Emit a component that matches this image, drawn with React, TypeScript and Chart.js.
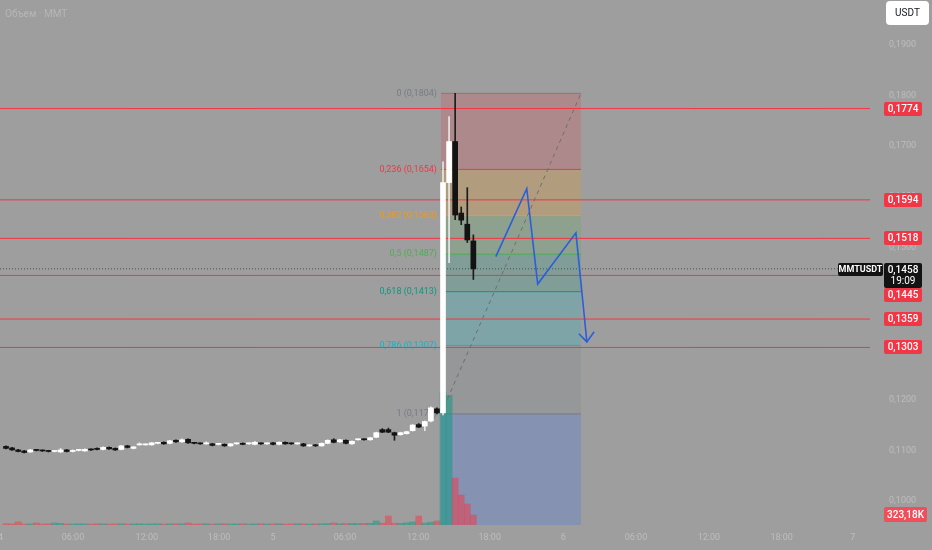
import React, { useEffect, useRef } from "react";
import { Chart, registerables } from "chart.js";
Chart.register(...registerables);

// ---------- data ----------
const OPEN = [
  0.1108, 0.1105, 0.1101, 0.1099, 0.1097, 0.1101, 0.1100, 0.1099, 0.1098, 0.1097,
  0.1101, 0.1098, 0.1100, 0.1099, 0.1102, 0.1104, 0.1102, 0.1106, 0.1104, 0.1102,
  0.1109, 0.1104, 0.1111, 0.1111, 0.1111, 0.1114, 0.1116, 0.1114, 0.1120, 0.1117,
  0.1122, 0.1115, 0.1114, 0.1113, 0.1113, 0.1112, 0.1112, 0.1109, 0.1113, 0.1114,
  0.1113, 0.1112, 0.1114, 0.1113, 0.1115, 0.1112, 0.1116, 0.1114, 0.1113, 0.1113,
  0.1109, 0.1110, 0.1109, 0.1114, 0.1121, 0.1117, 0.1120, 0.1113, 0.1121, 0.1122,
  0.1121, 0.1126, 0.1141, 0.1141, 0.1135, 0.1131, 0.1133, 0.1139, 0.1151, 0.1148,
  0.1158, 0.1182, 0.1174, 0.1628, 0.1709, 0.1568, 0.1546, 0.1513,
];
const HIGH = [
  0.1109, 0.1106, 0.1102, 0.1100, 0.1102, 0.1102, 0.1101, 0.1100, 0.1099, 0.1104,
  0.1102, 0.1101, 0.1102, 0.1103, 0.1103, 0.1105, 0.1107, 0.1107, 0.1105, 0.1110,
  0.1110, 0.1108, 0.1115, 0.1113, 0.1116, 0.1116, 0.1117, 0.1120, 0.1121, 0.1123,
  0.1123, 0.1116, 0.1115, 0.1117, 0.1114, 0.1114, 0.1113, 0.1114, 0.1115, 0.1115,
  0.1115, 0.1118, 0.1115, 0.1115, 0.1116, 0.1117, 0.1117, 0.1115, 0.1115, 0.1114,
  0.1111, 0.1112, 0.1115, 0.1121, 0.1123, 0.1122, 0.1121, 0.1119, 0.1123, 0.1123,
  0.1126, 0.1136, 0.1143, 0.1144, 0.1136, 0.1136, 0.1138, 0.1151, 0.1153, 0.1158,
  0.1186, 0.1184, 0.1669, 0.1758, 0.1804, 0.1580, 0.1618, 0.1525,
];
const LOW = [
  0.1103, 0.1100, 0.1097, 0.1095, 0.1096, 0.1099, 0.1098, 0.1097, 0.1097, 0.1096,
  0.1097, 0.1097, 0.1099, 0.1098, 0.1100, 0.1101, 0.1101, 0.1102, 0.1100, 0.1101,
  0.1105, 0.1103, 0.1110, 0.1110, 0.1110, 0.1113, 0.1112, 0.1113, 0.1116, 0.1116,
  0.1114, 0.1113, 0.1112, 0.1112, 0.1109, 0.1111, 0.1108, 0.1108, 0.1112, 0.1111,
  0.1112, 0.1111, 0.1112, 0.1112, 0.1111, 0.1111, 0.1112, 0.1112, 0.1112, 0.1108,
  0.1108, 0.1108, 0.1108, 0.1113, 0.1115, 0.1116, 0.1113, 0.1112, 0.1120, 0.1120,
  0.1120, 0.1125, 0.1135, 0.1135, 0.1120, 0.1130, 0.1132, 0.1138, 0.1145, 0.1139,
  0.1156, 0.1172, 0.1170, 0.1470, 0.1555, 0.1545, 0.1510, 0.1437,
];
const CLOSE = [
  0.1104, 0.1101, 0.1098, 0.1096, 0.1101, 0.1100, 0.1099, 0.1098, 0.1098, 0.1101,
  0.1098, 0.1100, 0.1101, 0.1102, 0.1101, 0.1102, 0.1106, 0.1103, 0.1101, 0.1109,
  0.1106, 0.1107, 0.1112, 0.1112, 0.1115, 0.1115, 0.1113, 0.1119, 0.1117, 0.1121,
  0.1115, 0.1114, 0.1113, 0.1114, 0.1110, 0.1113, 0.1109, 0.1113, 0.1114, 0.1112,
  0.1114, 0.1116, 0.1113, 0.1114, 0.1112, 0.1116, 0.1113, 0.1113, 0.1114, 0.1109,
  0.1110, 0.1109, 0.1114, 0.1120, 0.1116, 0.1121, 0.1114, 0.1118, 0.1122, 0.1121,
  0.1125, 0.1135, 0.1136, 0.1136, 0.1130, 0.1135, 0.1137, 0.1150, 0.1146, 0.1157,
  0.1184, 0.1174, 0.1628, 0.1709, 0.1564, 0.1554, 0.1515, 0.1458,
];
// volume, thousands
const VOLUME = [
  40, 35, 100, 30, 35, 65, 30, 40, 65, 50,
  35, 30, 40, 35, 30, 40, 35, 30, 35, 40,
  30, 35, 40, 30, 35, 40, 30, 35, 40, 35,
  65, 30, 35, 40, 30, 35, 40, 30, 35, 40,
  30, 35, 40, 30, 35, 40, 30, 35, 40, 35,
  30, 35, 40, 45, 65, 40, 45, 50, 45, 50,
  55, 130, 60, 290, 60, 55, 70, 100, 290, 60,
  90, 130, 4300, 4200, 1520, 970, 680, 323.18,
];
const VOL_MAX = 17000;

const X_TICK_POS = [-0.9, 11.04, 23.2, 35.1, 44.0, 55.85, 67.9, 79.7, 91.8, 103.8, 115.8, 127.8, 139.5];
const X_TICK_LABELS = ["4", "06:00", "12:00", "18:00", "5", "06:00", "12:00", "18:00", "6", "06:00", "12:00", "18:00", "7"];
const PRICE_TICKS = [0.1, 0.11, 0.12, 0.13, 0.14, 0.15, 0.16, 0.17, 0.18, 0.19];

const RED_LEVELS = [0.1774, 0.1594, 0.1518, 0.1445, 0.1359, 0.1303];
const LAST_PRICE = 0.1458;
const LAST_VOLUME_LABEL = "323,18K";
const COUNTDOWN = "19:09";
const SYMBOL = "MMTUSDT";
const TITLE = "Объем · MMT";
const CURRENCY = "USDT";

const FIB_RATIOS = ["0", "0,236", "0,382", "0,5", "0,618", "0,786", "1"];
const FIB_VALUES = [0.1804, 0.1654, 0.1563, 0.1487, 0.1413, 0.1307, 0.1172];
const FIB_START = 71.66;
const FIB_END = 94.73;

// projected zigzag (candle index, price)
const ZIGZAG_X = [80.7, 85.8, 87.6, 93.9, 95.7];
const ZIGZAG_Y = [0.1482, 0.1616, 0.1428, 0.1529, 0.1314];
const ARROW_X = [94.4, 95.7, 96.9];
const ARROW_Y = [0.1330, 0.1314, 0.1334];

// ---------- styles ----------
const BG = "#9e9e9e";
const X_MIN = -0.99;
const X_MAX = 142.35;
const Y_MIN = 0.0953;
const Y_MAX = 0.1988;
const FIB_COLORS = ["#787b86", "#f23645", "#ff9800", "#4caf50", "#089981", "#00bcd4", "#787b86"];
const FONT = "Roboto";

function rgba(hex: string, a: number) {
  const n = parseInt(hex.slice(1), 16);
  return `rgba(${(n >> 16) & 255},${(n >> 8) & 255},${n & 255},${a})`;
}
const fmt = (v: number) => v.toFixed(4).replace(".", ",");

function roundRect(ctx: CanvasRenderingContext2D, x: number, y: number, w: number, h: number, r: number) {
  ctx.beginPath();
  ctx.moveTo(x + r, y);
  ctx.lineTo(x + w - r, y);
  ctx.quadraticCurveTo(x + w, y, x + w, y + r);
  ctx.lineTo(x + w, y + h - r);
  ctx.quadraticCurveTo(x + w, y + h, x + w - r, y + h);
  ctx.lineTo(x + r, y + h);
  ctx.quadraticCurveTo(x, y + h, x, y + h - r);
  ctx.lineTo(x, y + r);
  ctx.quadraticCurveTo(x, y, x + r, y);
  ctx.closePath();
}

const overlay = {
  id: "overlay",
  beforeDraw(chart: any) {
    const ctx = chart.ctx;
    ctx.save();
    ctx.fillStyle = BG;
    ctx.fillRect(0, 0, chart.width, chart.height);
    ctx.restore();
  },
  beforeDatasetsDraw(chart: any) {
    const ctx = chart.ctx;
    const xs = chart.scales.x;
    const ys = chart.scales.y;
    const x = xs.getPixelForValue(FIB_START) - 4;
    ctx.save();
    ctx.font = `9px ${FONT}`;
    ctx.textAlign = "right";
    ctx.textBaseline = "middle";
    FIB_VALUES.forEach((v, i) => {
      ctx.fillStyle = FIB_COLORS[i];
      ctx.fillText(`${FIB_RATIOS[i]} (${fmt(v)})`, x, ys.getPixelForValue(v));
    });
    ctx.restore();
  },
  afterDraw(chart: any) {
    const ctx = chart.ctx;
    const ys = chart.scales.y;
    const yv = chart.scales.yv;
    const area = chart.chartArea;
    const bx = area.right + 14;
    const bw = 38;
    ctx.save();
    // title
    ctx.font = `10px ${FONT}`;
    ctx.fillStyle = "#b6b6b6";
    ctx.textAlign = "left";
    ctx.textBaseline = "middle";
    ctx.fillText(TITLE, 5, 14);
    // currency button
    ctx.fillStyle = "#ffffff";
    roundRect(ctx, area.right + 16, 1, 43, 24, 4);
    ctx.fill();
    ctx.fillStyle = "#131722";
    ctx.font = `10px ${FONT}`;
    ctx.textAlign = "center";
    ctx.fillText(CURRENCY, area.right + 37.5, 13.5);

    // last price box position
    const py = ys.getPixelForValue(LAST_PRICE);
    const pTop = Math.round(py) - 6;
    const pH = 25;
    // red level labels
    RED_LEVELS.forEach((v) => {
      const cy = ys.getPixelForValue(v);
      let top = Math.round(cy) - 7;
      if (top < pTop + pH && top + 14 > pTop) top = pTop + pH;
      ctx.fillStyle = "#f23645";
      roundRect(ctx, bx, top, bw, 14, 2);
      ctx.fill();
      ctx.fillStyle = "#ffffff";
      ctx.font = `500 10px ${FONT}`;
      ctx.textAlign = "center";
      ctx.textBaseline = "middle";
      ctx.fillText(fmt(v), bx + bw / 2, top + 7.5);
    });
    // last price box
    ctx.fillStyle = "#131313";
    roundRect(ctx, bx, pTop, bw, pH, 2);
    ctx.fill();
    ctx.fillStyle = "#ffffff";
    ctx.font = `500 10px ${FONT}`;
    ctx.textAlign = "center";
    ctx.fillText(fmt(LAST_PRICE), bx + bw / 2, pTop + 7);
    ctx.font = `10px ${FONT}`;
    ctx.fillText(COUNTDOWN, bx + bw / 2, pTop + 18.5);
    // symbol box
    ctx.fillStyle = "#131313";
    roundRect(ctx, bx - 46, pTop, 45, 13, 2);
    ctx.fill();
    ctx.fillStyle = "#ffffff";
    ctx.font = `bold 9px ${FONT}`;
    ctx.fillText(SYMBOL, bx - 23.5, pTop + 7);
    // volume label
    const vy = yv.getPixelForValue(VOLUME[VOLUME.length - 1]);
    ctx.fillStyle = "#ef4f5a";
    roundRect(ctx, bx, Math.round(vy) - 8, 43, 15, 2);
    ctx.fill();
    ctx.fillStyle = "#ffffff";
    ctx.font = `500 10px ${FONT}`;
    ctx.fillText(LAST_VOLUME_LABEL, bx + 21.5, Math.round(vy));
    ctx.restore();
  },
};

export default function App() {
  const ref = useRef<HTMLCanvasElement>(null);
  useEffect(() => {
    Chart.defaults.font.family = FONT;
    const up = OPEN.map((o, i) => CLOSE[i] >= o);
    const hline = (v: number) => [
      { x: X_MIN, y: v },
      { x: X_MAX, y: v },
    ];
    const fibLine = (v: number) => [
      { x: FIB_START, y: v },
      { x: FIB_END, y: v },
    ];
    const datasets: any[] = [];

    // fib zones and levels (contiguous for fill '-1')
    FIB_VALUES.forEach((v, i) => {
      datasets.push({
        type: "line",
        data: fibLine(v),
        borderColor: FIB_COLORS[i],
        borderWidth: 1,
        pointRadius: 0,
        fill: i === 0 ? false : "-1",
        backgroundColor: rgba(FIB_COLORS[i], 0.2),
        order: 6,
      });
    });
    datasets.push({
      type: "line",
      data: fibLine(FIB_VALUES[FIB_VALUES.length - 1]),
      borderWidth: 0,
      borderColor: "rgba(0,0,0,0)",
      pointRadius: 0,
      fill: "start",
      backgroundColor: rgba("#2962ff", 0.2),
      order: 6,
    });

    // volume
    datasets.push({
      type: "bar",
      yAxisID: "yv",
      data: VOLUME.map((v, i) => ({ x: i, y: v })),
      backgroundColor: up.map((u) => (u ? rgba("#089981", 0.5) : rgba("#f23645", 0.5))),
      barThickness: 6,
      grouped: false,
      order: 5,
    });

    // red horizontal levels
    RED_LEVELS.forEach((v) => {
      datasets.push({
        type: "line",
        data: hline(v),
        borderColor: "#f23645",
        borderWidth: 1,
        pointRadius: 0,
        fill: false,
        order: 4,
      });
    });
    // last price dotted line
    datasets.push({
      type: "line",
      data: hline(LAST_PRICE),
      borderColor: "#4d4d4d",
      borderWidth: 1,
      borderDash: [1, 2],
      pointRadius: 0,
      fill: false,
      order: 4,
    });
    // fib trend line
    datasets.push({
      type: "line",
      data: [
        { x: FIB_START, y: FIB_VALUES[FIB_VALUES.length - 1] },
        { x: FIB_END, y: FIB_VALUES[0] },
      ],
      borderColor: "#6e6e6e",
      borderWidth: 1,
      borderDash: [4, 4],
      pointRadius: 0,
      fill: false,
      order: 3,
    });
    // wicks
    datasets.push({
      type: "bar",
      yAxisID: "y",
      data: OPEN.map((_, i) => ({ x: i, y: [LOW[i], HIGH[i]] })),
      backgroundColor: up.map((u) => (u ? "#e8e8e8" : "#1c1c1c")),
      barThickness: 1,
      grouped: false,
      order: 2,
    });
    // bodies
    datasets.push({
      type: "bar",
      yAxisID: "y",
      data: OPEN.map((o, i) => ({ x: i, y: [o, CLOSE[i]] })),
      backgroundColor: up.map((u) => (u ? "#ffffff" : "#131313")),
      barThickness: 5,
      minBarLength: 1,
      grouped: false,
      order: 1,
    });
    // zigzag projection
    datasets.push({
      type: "line",
      data: ZIGZAG_X.map((x, i) => ({ x, y: ZIGZAG_Y[i] })),
      borderColor: "#2b5fd9",
      borderWidth: 1.6,
      pointRadius: 0,
      fill: false,
      tension: 0,
      order: 0,
    });
    datasets.push({
      type: "line",
      data: ARROW_X.map((x, i) => ({ x, y: ARROW_Y[i] })),
      borderColor: "#2b5fd9",
      borderWidth: 1.6,
      pointRadius: 0,
      fill: false,
      tension: 0,
      order: 0,
    });

    const chart = new Chart(ref.current as HTMLCanvasElement, {
      type: "line",
      data: { datasets },
      options: {
        animation: false,
        responsive: true,
        maintainAspectRatio: false,
        events: [],
        layout: { padding: 0 },
        plugins: { legend: { display: false }, tooltip: { enabled: false } },
        scales: {
          x: {
            type: "linear",
            min: X_MIN,
            max: X_MAX,
            offset: false,
            grid: { display: false, drawTicks: false },
            border: { display: false },
            afterBuildTicks: (a: any) => {
              a.ticks = X_TICK_POS.map((v) => ({ value: v }));
            },
            afterFit: (s: any) => {
              s.height = 25;
              s.paddingLeft = 0;
              s.paddingRight = 0;
            },
            ticks: {
              autoSkip: false,
              maxRotation: 0,
              padding: 7,
              color: "#bdbdbd",
              font: { size: 9, family: FONT },
              callback: (_v: any, i: number) => X_TICK_LABELS[i],
            },
          },
          y: {
            type: "linear",
            position: "right",
            min: Y_MIN,
            max: Y_MAX,
            grid: { display: false, drawTicks: false },
            border: { display: false },
            afterBuildTicks: (a: any) => {
              a.ticks = PRICE_TICKS.map((v) => ({ value: v }));
            },
            afterFit: (s: any) => {
              s.width = 62;
              s.paddingTop = 0;
              s.paddingBottom = 0;
            },
            ticks: {
              padding: 19,
              color: "#bdbdbd",
              font: { size: 9, family: FONT },
              callback: (v: any) => fmt(Number(v)),
            },
          },
          yv: {
            type: "linear",
            display: false,
            min: 0,
            max: VOL_MAX,
          },
        },
      } as any,
      plugins: [overlay as any],
    });
    return () => chart.destroy();
  }, []);
  return (
    <div style={{ position: "fixed", left: 0, top: 0, width: 932, height: 550, background: BG }}>
      <canvas ref={ref} />
    </div>
  );
}
